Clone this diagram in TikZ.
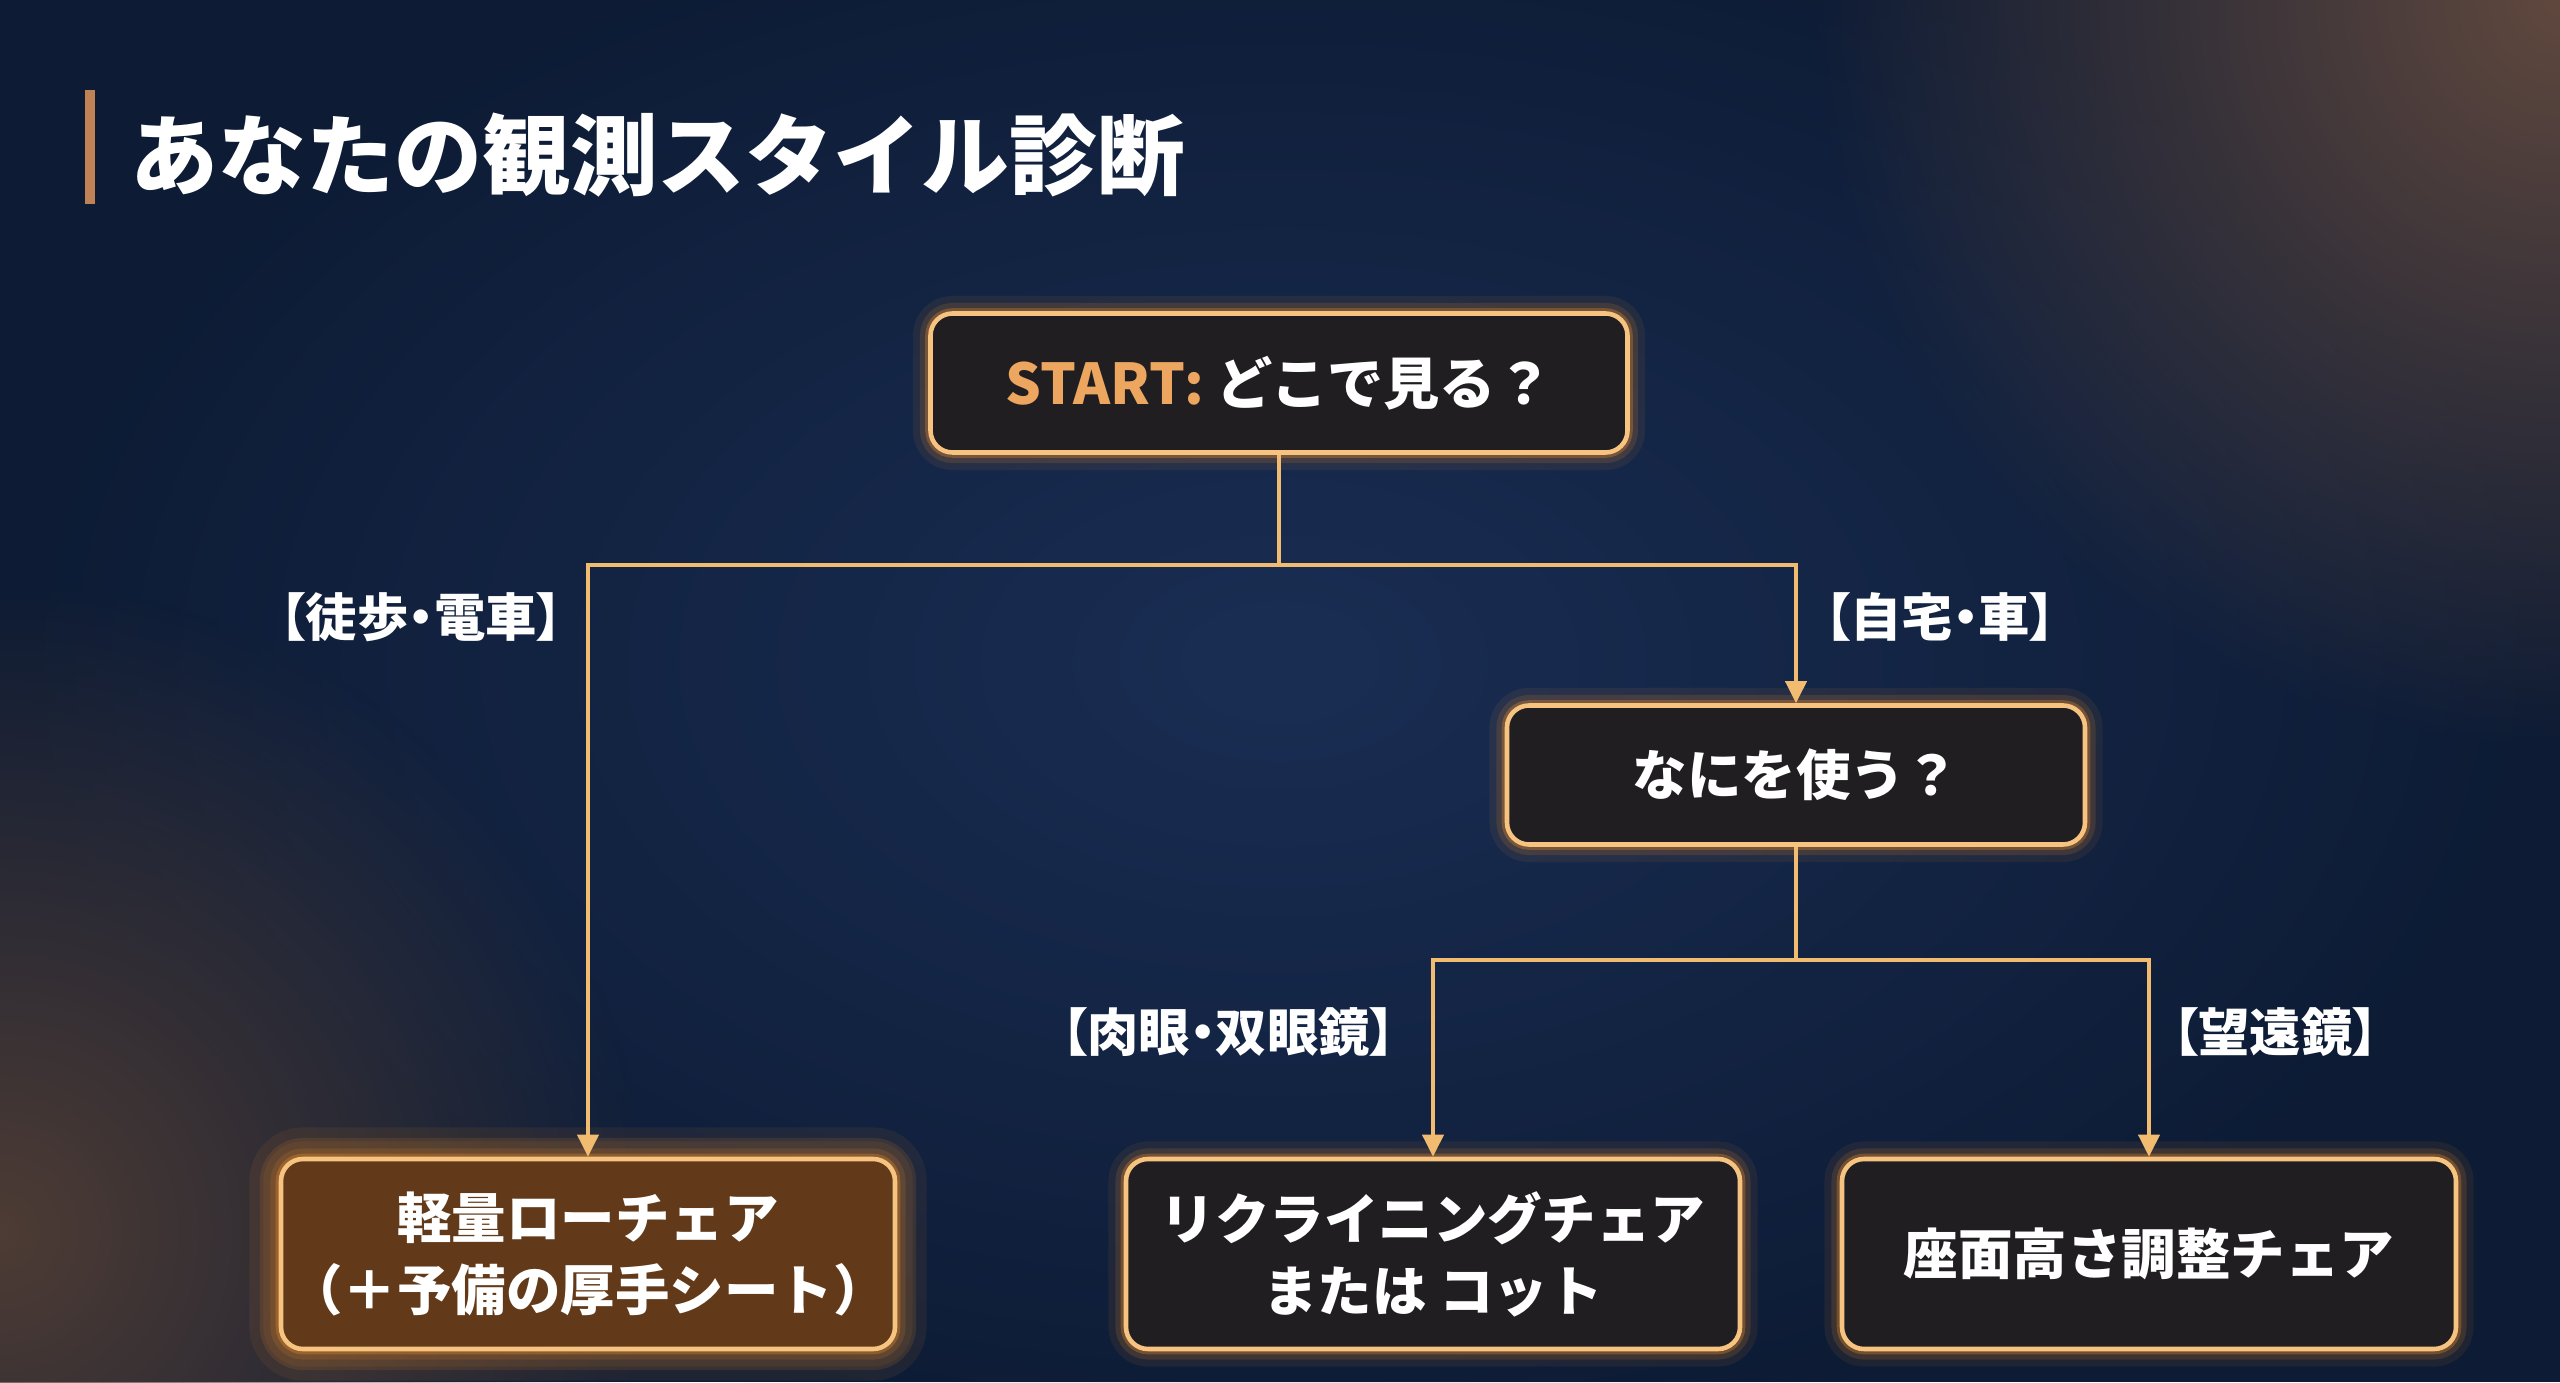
\documentclass[tikz,border=0pt]{standalone}
\usepackage{fontspec}
\setmainfont{Noto Sans CJK JP}
\newfontfamily\obtagfont{Noto Sans CJK JP}[RawFeature=+palt]
\usepackage{xcolor}
\usetikzlibrary{arrows.meta,positioning,calc,fadings}
\tikzfading[name=obfade, inner color=transparent!0, outer color=transparent!100]
\definecolor{obbg}{RGB}{13,27,52}
\definecolor{obmid}{RGB}{26,46,84}
\definecolor{obwarm}{RGB}{96,72,62}
\definecolor{obwarmb}{RGB}{78,60,52}
\definecolor{obedge}{RGB}{246,196,128}
\definecolor{obglow}{RGB}{245,145,40}
\definecolor{obfill}{RGB}{33,30,34}
\definecolor{obhot}{RGB}{98,58,26}
\definecolor{obline}{RGB}{242,188,112}
\definecolor{obstart}{RGB}{236,166,96}
\definecolor{obbar}{RGB}{190,130,85}
\tikzset{
  obbox/.style={
    draw=obedge, fill=obfill, line width=1.3pt, rounded corners=2.2mm,
    align=center, text=white, inner sep=2pt,
    font=\fontsize{15.5}{20.5}\selectfont\bfseries,
    preaction={draw=obglow, line width=10pt, draw opacity=0.08},
    preaction={draw=obglow, line width=6pt, draw opacity=0.14},
    preaction={draw=obglow, line width=3pt, draw opacity=0.3}
  },
  ask/.style={obbox, minimum height=13.9mm},
  pick/.style={obbox, minimum width=61.4mm, minimum height=19mm},
  hot/.style={pick, fill=obhot,
    preaction={draw=obglow, line width=18pt, draw opacity=0.08},
    preaction={draw=obglow, line width=12pt, draw opacity=0.12}},
  link/.style={draw=obline, line width=1.1pt},
  arr/.style={link, -{Triangle[length=2.2mm,width=2.1mm]}},
  tag/.style={text=white, font=\obtagfont\fontsize{14.6}{17}\selectfont\bfseries, inner sep=0pt},
  ttl/.style={text=white, font=\fontsize{25}{30}\selectfont\bfseries, inner sep=0pt}
}

\begin{document}
\begin{tikzpicture}[node distance=2mm]
  \useasboundingbox (0,0) rectangle (25.6,13.82);
  % background
  \begin{scope}
    \clip (0,0) rectangle (25.6,13.82);
    \fill[obbg] (0,0) rectangle (25.6,13.82);
    \fill[obmid, path fading=obfade] (12.8,7.2) ellipse (13 and 8);
    \fill[obwarm, path fading=obfade] (25.6,13.82) circle (7.5);
    \fill[obwarmb, path fading=obfade] (0,1.5) circle (6.5);
  \end{scope}

  \fill[obbar] (0.85,11.78) rectangle (0.95,12.92);
  \node[ttl, anchor=west] (title) at (1.30,12.27) {あなたの観測スタイル診断};

  \node[ask, minimum width=69.7mm, font=\fontsize{16}{20}\selectfont\bfseries] (start) at (12.79,9.99)
    {\textcolor{obstart}{START:} どこで見る？};
  \node[ask, minimum width=57.8mm] (what) at (17.96,6.07) {なにを使う？};

  \node[hot] (lite) at (5.88,1.28) {軽量ローチェア\\（＋予備の厚手シート）};
  \node[pick] (recl) at (14.33,1.28) {リクライニングチェア\\または コット};
  \node[pick] (seat) at (21.49,1.28) {座面高さ調整チェア};

  \coordinate (j1) at (start.south |- 0,8.17);
  \coordinate (j2) at (what.south |- 0,4.22);
  \draw[link] (start.south) -- (j1);
  \draw[arr] (j1) -| (lite.north);
  \draw[arr] (j1) -| (what.north);
  \draw[link] (what.south) -- (j2);
  \draw[arr] (j2) -| (recl.north);
  \draw[arr] (j2) -| (seat.north);

  \node[tag, anchor=east] (walk) at (5.63,7.65) {【徒歩・電車】};
  \node[tag, anchor=west] (home) at (18.24,7.65) {【自宅・車】};
  \node[tag, anchor=east] (eye) at (13.96,3.50) {【肉眼・双眼鏡】};
  \node[tag, anchor=west] (scope) at (21.72,3.50) {【望遠鏡】};
\end{tikzpicture}
\end{document}
